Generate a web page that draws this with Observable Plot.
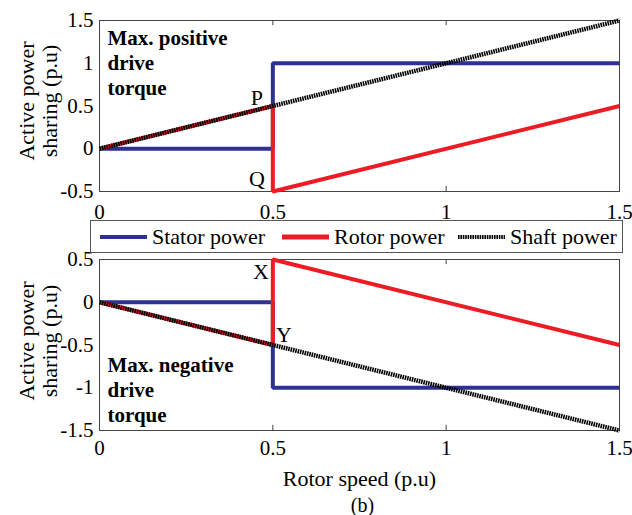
<!DOCTYPE html>
<html>
<head>
<meta charset="utf-8">
<script src="https://cdn.jsdelivr.net/npm/d3@7"></script>
<script src="https://cdn.jsdelivr.net/npm/@observablehq/plot@0.6"></script>
<style>
  body { margin: 0; background: #fff; }
  #wrap { position: relative; width: 632px; height: 515px; font-family: "Liberation Serif", "Times New Roman", serif; color: #000; }
  #top, #bottom { position: absolute; left: 0; }
  #top { top: 0; }
  #bottom { top: 240px; }
  #legend { position: absolute; left: 90px; top: 220px; width: 531px; height: 31px; border: 1px solid #555; background: #fff; z-index: 2; }
  .item { position: absolute; top: 0; height: 31px; display: flex; align-items: center; font-size: 22px; white-space: nowrap; }
  .item svg { margin-right: 5px; }
</style>
</head>
<body>
<div id="wrap">
  <div id="top"></div>
  <div id="legend"></div>
  <div id="bottom"></div>
</div>
<script>
// ---- data ----
const speed = [0, 0.5, 0.5, 1.5];
const statorPos = [0, 0, 1, 1];
const rotorPos = [0, 0.5, -0.5, 0.5];
const shaftSpeed = [0, 1.5];
const shaftPos = [0, 1.5];
const statorNeg = [0, 0, -1, -1];
const rotorNeg = [0, -0.5, 0.5, -0.5];
const shaftNeg = [0, -1.5];
const xTicks = [0, 0.5, 1, 1.5];
const innerTicks = [0.5, 1];
const yTicksPos = [-0.5, 0, 0.5, 1, 1.5];
const yTicksNeg = [-1.5, -1, -0.5, 0, 0.5];
const seriesNames = ["Stator power", "Rotor power", "Shaft power"];
const seriesColors = ["#2e3192", "#ed1c24", "#000000"];
const labelsPos = [{t: "P", x: 0.5, y: 0.5, dx: -16, dy: -8}, {t: "Q", x: 0.5, y: -0.5, dx: -16, dy: -13}];
const labelsNeg = [{t: "X", x: 0.5, y: 0.5, dx: -12, dy: 12}, {t: "Y", x: 0.5, y: -0.5, dx: 11, dy: -10}];

const FONT = '"Liberation Serif", "Times New Roman", serif';
const toRows = (xs, ys) => xs.map((x, i) => ({x, y: ys[i]}));

function panel({stator, rotor, shaft, yTicks, labels, note, noteDy, tickPad, height, marginTop, marginBottom, yLabelDy, extra}) {
  const yDom = [yTicks[0], yTicks[yTicks.length - 1]];
  const marks = [
    Plot.frame({stroke: "#444", strokeWidth: 1}),
    Plot.ruleX(innerTicks, {x: d => d, y1: yDom[1], y2: yDom[1] - 0.06, stroke: "#444"}),
    Plot.ruleX(innerTicks, {x: d => d, y1: yDom[0], y2: yDom[0] + 0.06, stroke: "#444"}),
    Plot.axisX({ticks: xTicks, tickSize: 0, tickPadding: tickPad, fontSize: 21, tickFormat: d => String(d), label: null}),
    Plot.axisY({ticks: yTicks, tickSize: 0, tickPadding: 6, fontSize: 21, tickFormat: d => String(d), label: null}),
    Plot.line(toRows(speed, stator), {x: "x", y: "y", stroke: seriesColors[0], strokeWidth: 4, strokeLinejoin: "miter", strokeLinecap: "butt"}),
    Plot.line(toRows(speed, rotor), {x: "x", y: "y", stroke: seriesColors[1], strokeWidth: 4, strokeLinejoin: "miter", strokeLinecap: "butt"}),
    Plot.line(toRows(shaftSpeed, shaft), {x: "x", y: "y", stroke: seriesColors[2], strokeWidth: 4.5, strokeDasharray: "1.6,0.8", strokeLinecap: "butt"}),
    ...labels.map(l => Plot.text([l], {x: "x", y: "y", text: "t", dx: l.dx, dy: l.dy, fontSize: 22, fill: "#000"})),
    Plot.text([note], {frameAnchor: "top-left", text: d => d, dx: 8, dy: noteDy, lineAnchor: "top", fontSize: 21, fontWeight: "bold", lineHeight: 1.21, fill: "#000"}),
    Plot.text(["Active power\nsharing (p.u)"], {frameAnchor: "left", textAnchor: "middle", text: d => d, rotate: -90, dx: -61, dy: yLabelDy, fontSize: 22, lineHeight: 1.05, fill: "#000"}),
    ...(extra || [])
  ];
  return Plot.plot({
    width: 632, height, marginLeft: 99, marginRight: 13, marginTop, marginBottom,
    x: {domain: [0, 1.5]},
    y: {domain: yDom},
    style: {fontFamily: FONT, color: "#000", background: "transparent", overflow: "visible"},
    marks
  });
}

document.getElementById("top").append(panel({
  stator: statorPos, rotor: rotorPos, shaft: shaftPos, yTicks: yTicksPos, labels: labelsPos,
  note: "Max. positive\ndrive\ntorque", noteDy: 6, tickPad: 13,
  height: 222, marginTop: 20, marginBottom: 31, yLabelDy: -5
}));

document.getElementById("bottom").append(panel({
  stator: statorNeg, rotor: rotorNeg, shaft: shaftNeg, yTicks: yTicksNeg, labels: labelsNeg,
  note: "Max. negative\ndrive\ntorque", noteDy: 94, tickPad: 10,
  height: 275, marginTop: 19, marginBottom: 85, yLabelDy: -4,
  extra: [
    Plot.text(["Rotor speed (p.u)"], {frameAnchor: "bottom", text: d => d, dy: 55, fontSize: 22, fill: "#000"}),
    Plot.text(["(b)"], {frameAnchor: "bottom", text: d => d, dx: 3, dy: 81, fontSize: 20, fill: "#000"})
  ]
}));

// ---- legend ----
const legend = document.getElementById("legend");
const itemLeft = [9, 191, 367];
seriesNames.forEach((name, i) => {
  const div = document.createElement("div");
  div.className = "item";
  div.style.left = itemLeft[i] + "px";
  const dash = i === 2 ? ' stroke-dasharray="1.6,0.8"' : "";
  const w = i === 1 ? 5 : 4;
  div.innerHTML = `<svg width="47" height="10"><line x1="0" x2="47" y1="5" y2="5" stroke="${seriesColors[i]}" stroke-width="${w}"${dash}/></svg><span>${name}</span>`;
  legend.append(div);
});
</script>
</body>
</html>
